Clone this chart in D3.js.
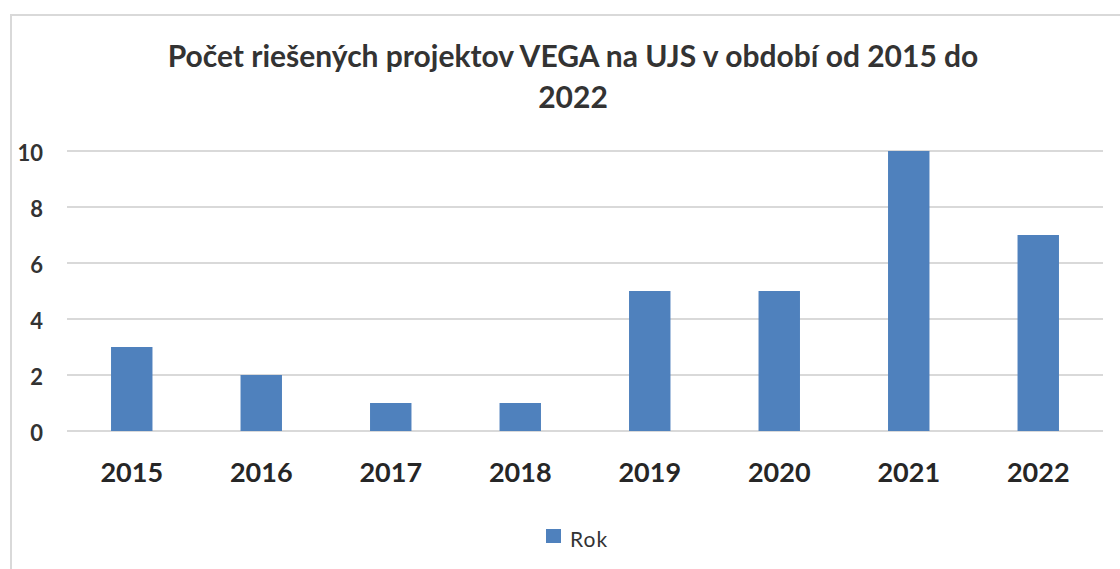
<!DOCTYPE html>
<html>
<head>
  <meta charset="utf-8">
  <style>
    body { margin: 0; background: #fff; }
    svg { display: block; }
  </style>
</head>
<body>
  <svg id="chart"></svg>
  <script src="https://cdn.jsdelivr.net/npm/d3@7/dist/d3.min.js"></script>
  <script>
    var years = ["2015", "2016", "2017", "2018", "2019", "2020", "2021", "2022"];
    var counts = [3, 2, 1, 1, 5, 5, 10, 7];
    var yTicks = [0, 2, 4, 6, 8, 10];
    var titleLines = ["Počet riešených projektov VEGA na UJS v období od 2015 do", "2022"];
    var seriesName = "Rok";

    var width = 1120, height = 569;
    var font = "Lato, 'Open Sans', sans-serif";

    var svg = d3.select("#chart").attr("width", width).attr("height", height);

    // outer frame, runs off right and bottom edges
    svg.append("rect")
      .attr("x", 11).attr("y", 15)
      .attr("width", 1200).attr("height", 600)
      .attr("fill", "#fff")
      .attr("stroke", "#d9d9d9")
      .attr("stroke-width", 2);

    var x = d3.scaleBand().domain(years).range([67, 1103]).paddingInner(0.68).paddingOuter(0.34);
    var y = d3.scaleLinear().domain([0, 10]).range([431, 151]);

    // gridlines
    svg.append("g")
      .selectAll("line")
      .data(yTicks)
      .enter()
      .append("line")
      .attr("x1", 67).attr("x2", 1103)
      .attr("y1", function(d) { return y(d); })
      .attr("y2", function(d) { return y(d); })
      .attr("stroke", "#d9d9d9")
      .attr("stroke-width", 2);

    // y axis labels
    var yAxis = svg.append("g")
      .attr("transform", "translate(43,2)")
      .call(d3.axisLeft(y).tickValues(yTicks).tickSize(0).tickPadding(0));
    yAxis.select(".domain").remove();
    yAxis.selectAll("text")
      .attr("font-family", font)
      .attr("font-weight", "bold")
      .attr("font-size", 22)
      .attr("fill", "#333");

    // bars
    svg.append("g")
      .selectAll("rect")
      .data(counts)
      .enter()
      .append("rect")
      .attr("x", function(d, i) { return x(years[i]); })
      .attr("y", function(d) { return y(d); })
      .attr("width", x.bandwidth())
      .attr("height", function(d) { return y(0) - y(d); })
      .attr("fill", "#4f81bd");

    // x axis labels
    var xAxis = svg.append("g")
      .attr("transform", "translate(0,463)")
      .call(d3.axisBottom(x).tickSize(0).tickPadding(0));
    xAxis.select(".domain").remove();
    xAxis.selectAll("text")
      .attr("font-family", font)
      .attr("font-weight", "bold")
      .attr("font-size", 27)
      .attr("fill", "#262626");

    // title
    svg.append("g")
      .selectAll("text")
      .data(titleLines)
      .enter()
      .append("text")
      .attr("x", 573)
      .attr("y", function(d, i) { return 67 + i * 41; })
      .attr("text-anchor", "middle")
      .attr("font-family", font)
      .attr("font-weight", "bold")
      .attr("font-size", 30)
      .attr("fill", "#333")
      .text(function(d) { return d; });

    // legend
    var legend = svg.append("g").attr("transform", "translate(546,529)");
    legend.append("rect").attr("width", 15).attr("height", 14).attr("fill", "#4f81bd");
    legend.append("text")
      .attr("x", 24).attr("y", 18)
      .attr("font-family", font)
      .attr("font-size", 21)
      .attr("letter-spacing", 1)
      .attr("fill", "#333")
      .text(seriesName);
  </script>
</body>
</html>
